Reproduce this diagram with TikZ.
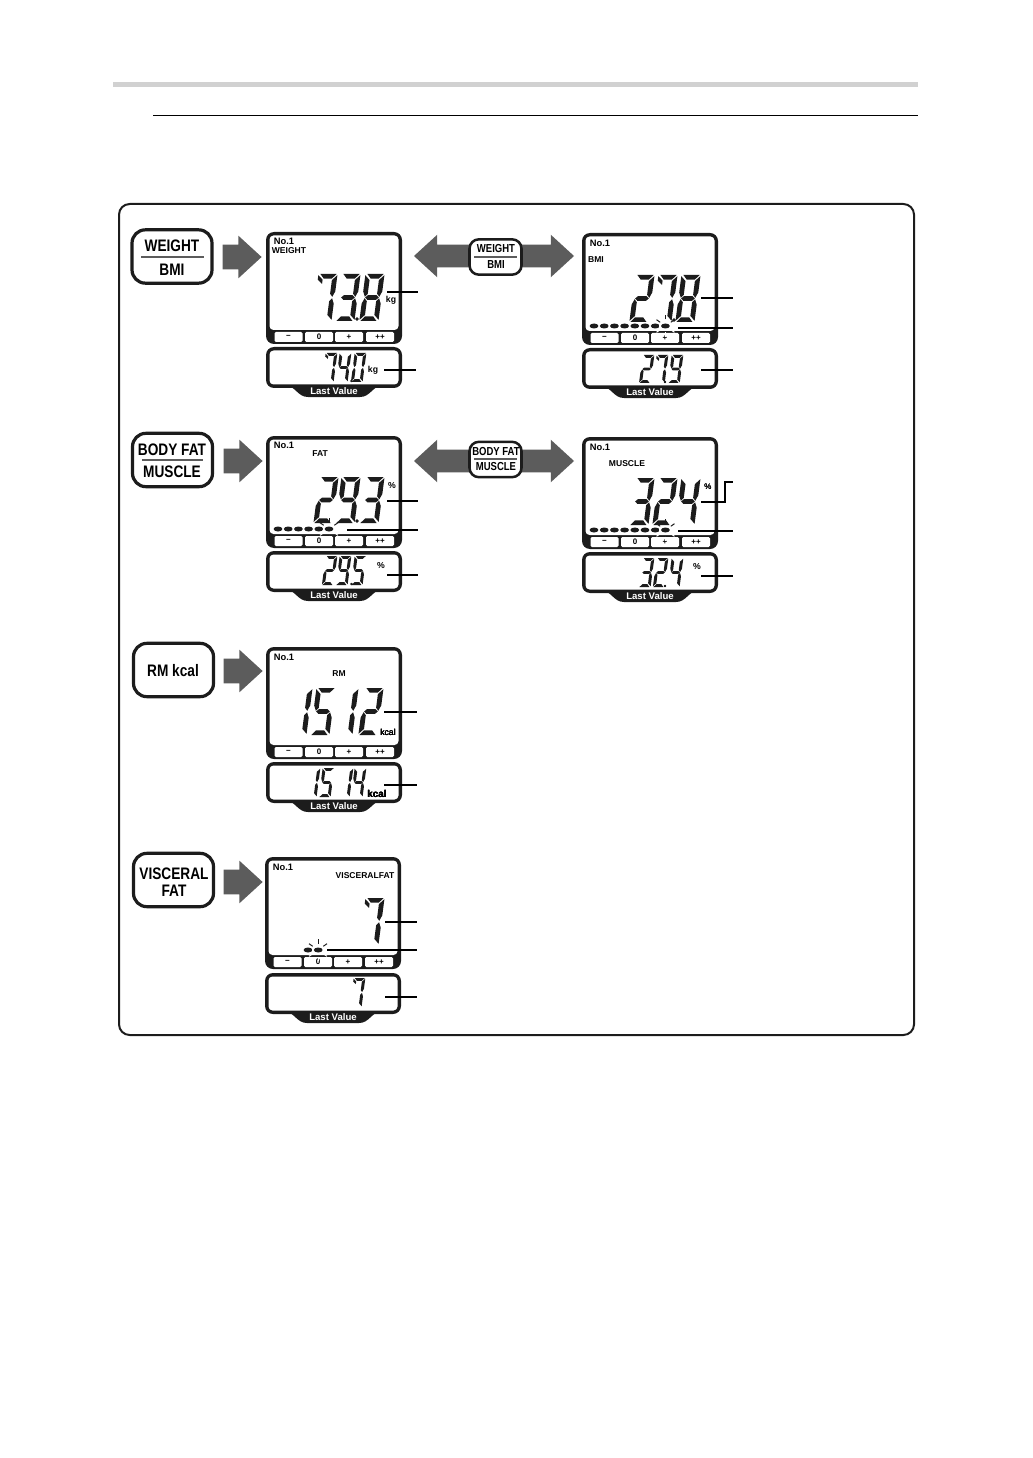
\documentclass[tikz,border=0pt]{standalone}
\usepackage{fontspec}
\setmainfont{Liberation Sans}
\newfontfamily\keyfont[FakeStretch=0.82]{Liberation Sans}
\usetikzlibrary{shapes,arrows,positioning}
\definecolor{lcdblack}{HTML}{1C1C1C}
\definecolor{arrowgray}{HTML}{5C5C5C}
\tikzstyle{lcdframe}=[rectangle, rounded corners=6pt, fill=lcdblack, minimum width=102pt, inner sep=0pt]
\tikzstyle{lcdbutton}=[rectangle, rounded corners=1pt, fill=white, minimum width=21pt, minimum height=7.5pt, inner sep=0pt, font=\fontsize{6}{6}\selectfont\bfseries]
\tikzstyle{lcdlabel}=[inner sep=0pt, font=\fontsize{6.4}{7}\selectfont\bfseries]
\tikzstyle{lcdno}=[inner sep=0pt, font=\fontsize{7}{8}\selectfont\bfseries]
\tikzstyle{lcdunit}=[inner sep=0pt, font=\fontsize{6.5}{7}\selectfont\bfseries]
\tikzstyle{keybox}=[rectangle, rounded corners=10pt, draw=lcdblack, line width=2.4pt, fill=white, minimum width=60pt, minimum height=40pt, inner sep=0pt]
\tikzstyle{smallkey}=[rectangle, rounded corners=7pt, draw=lcdblack, line width=1.9pt, fill=white, minimum width=39pt, minimum height=26.5pt, inner sep=0pt]
\tikzstyle{keytext}=[inner sep=0pt, font=\fontsize{12.5}{13}\keyfont\bfseries]
\tikzstyle{smalltext}=[inner sep=0pt, font=\fontsize{8.7}{9}\keyfont\bfseries]
\tikzstyle{keyrule}=[draw=arrowgray, line width=1.5pt]
\tikzstyle{smallrule}=[draw=arrowgray, line width=1pt]
\tikzstyle{leaderline}=[draw=black, line width=0.9pt]
\tikzstyle{singlearrow}=[single arrow, fill=arrowgray, minimum height=29.25pt, minimum width=31.5pt, inner xsep=0pt, inner ysep=9pt, single arrow head extend=6.75pt, single arrow tip angle=85, anchor=tip]
\tikzstyle{doublearrow}=[double arrow, fill=arrowgray, minimum height=120pt, minimum width=31.5pt, inner xsep=0pt, inner ysep=8.25pt, double arrow head extend=7.5pt, double arrow tip angle=85]
% lcd segments, unit box 1 x 2
\newcommand{\segA}{\fill (0.08,0) -- (0.98,0) -- (0.74,0.2) -- (0.3,0.2) -- cycle;}
\newcommand{\segB}{\fill (1.03,0.05) -- (1.03,0.74) -- (0.9,0.97) -- (0.76,0.84) -- (0.76,0.26) -- cycle;}
\newcommand{\segC}{\fill (1.03,1.26) -- (1.03,1.95) -- (0.76,1.74) -- (0.76,1.16) -- (0.9,1.03) -- cycle;}
\newcommand{\segD}{\fill (0.02,2) -- (0.92,2) -- (0.7,1.8) -- (0.26,1.8) -- cycle;}
\newcommand{\segE}{\fill (-0.03,1.26) -- (0.1,1.03) -- (0.24,1.16) -- (0.24,1.74) -- (-0.03,1.95) -- cycle;}
\newcommand{\segF}{\fill (-0.03,0.05) -- (0.24,0.26) -- (0.24,0.84) -- (0.1,0.97) -- (-0.03,0.74) -- cycle;}
\newcommand{\segG}{\fill (0.26,0.9) -- (0.74,0.9) -- (0.88,1) -- (0.74,1.1) -- (0.26,1.1) -- (0.12,1) -- cycle;}
\newcommand{\segH}{\fill (-0.03,0.05) -- (0.24,0.24) -- (0.24,0.42) -- (-0.03,0.24) -- cycle;}
\newcommand{\lcddigit}[5]{
 \begin{scope}[shift={(#1,#2)},xslant=0.13,xscale=#3,yscale=#4/2,lcdblack]
  \ifcase#5 \def\seglist{A,B,C,D,E,F}\or \def\seglist{B,C}\or \def\seglist{A,B,G,E,D}\or
   \def\seglist{A,B,G,C,D}\or \def\seglist{F,G,B,C}\or \def\seglist{A,F,G,C,D}\or
   \def\seglist{A,F,G,C,D,E}\or \def\seglist{A,B,C,H}\or \def\seglist{A,B,C,D,E,F,G}\or
   \def\seglist{A,B,C,D,F,G}\fi
  \foreach \s in \seglist {\csname seg\s\endcsname}
 \end{scope}}
\newcommand{\lcdmain}[3]{
 \begin{scope}[shift={(#2,#3)}]
  \node[lcdframe, minimum height=84pt] (#1) at (68,56) {};
  \path[fill=white, rounded corners=3pt] (3.5,3.5) rectangle (132.5,98);
  \foreach \bname/\bx/\btxt in {minus/22.5/−,zero/53/0,plus/83/+,plusplus/114/++}
   \node[lcdbutton] (#1-\bname) at (\bx,105) {\btxt};
 \end{scope}}
\newcommand{\lcdlast}[3]{
 \begin{scope}[shift={(#2,#3)}]
  \fill[lcdblack] (20,38) .. controls (30,40) and (32,50) .. (42,50) -- (94,50) .. controls (104,50) and (106,40) .. (116,38) -- cycle;
  \node[lcdframe, minimum height=30.75pt] (#1) at (68,20.5) {};
  \path[fill=white, rounded corners=3pt] (3.5,3.5) rectangle (132.5,37.5);
  \node[inner sep=0pt, text=white, font=\fontsize{7.2}{8}\selectfont\bfseries] (#1-tab) at (68,44.5) {Last Value};
 \end{scope}}
\newcommand{\lcddots}[3]{
 \foreach \i in {1,...,#3}
  \fill[lcdblack] (#1+\i*10.2-10.2,#2) ellipse [x radius=4.4, y radius=2.5];}
\newcommand{\lcdblink}[2]{
 \foreach \a in {215,270,325}
  \draw[lcdblack, line width=0.75pt] (#1,#2) ++(\a:6.5) -- ++(\a:4.5);
 \foreach \a in {35,90,145}
  \draw[white, line width=0.75pt] (#1,#2) ++(\a:6.5) -- ++(\a:4.5);
 \foreach \a in {180}
  \draw[white, line width=1pt] (#1,#2) ++(\a:4.6) -- ++(\a:1.5);}
\newcommand{\leader}[4]{
 \coordinate (#1-a) at (#2,#4);
 \coordinate (#1-b) at (#3,#4);
 \draw[leaderline] (#1-a) -- (#1-b);}

\begin{document}
\begin{tikzpicture}[x=0.75pt,y=-0.75pt]
\useasboundingbox (0,0) rectangle (1032,1458);

\fill[black!18] (113,82) rectangle (918,87);
\coordinate (top-a) at (153,115.5);
\coordinate (top-b) at (918,115.5);
\draw[line width=0.8pt] (top-a) -- (top-b);
\draw[draw=lcdblack, line width=1.5pt, rounded corners=8pt] (119,204) rectangle (914,1035);

% row 1
\node[keybox] (key1) at (172,256.5) {};
\node[keytext] (key1-t) at (172,246) {WEIGHT};
\node[keytext] (key1-b) at (172,270) {BMI};
\draw[keyrule] (141,257) -- (204,257);
\node[singlearrow] (arr1) at (262,257) {};
\node[doublearrow] (darr1) at (494,256) {};
\node[smallkey] (skey1) at (495.5,257) {};
\node[smalltext] (skey1-t) at (496,249) {WEIGHT};
\node[smalltext] (skey1-b) at (496,265) {BMI};
\draw[smallrule] (474,257) -- (517,257);

\lcdmain{weight}{266}{232}
\node[lcdno] (weight-no) at (284,241) {No.1};
\node[lcdlabel] (weight-la) at (289,251) {WEIGHT};
\foreach \xd/\dig in {319/7,342/3,366/8} \lcddigit{\xd}{274}{18}{47}{\dig}
\fill[lcdblack] (357,319) circle (1.6);
\node[lcdunit] (weight-un) at (391,300) {kg};
\leader{l1}{387}{418}{292}
\lcdlast{weightl}{266}{347}
\foreach \xd/\dig in {326/7,340/4,355/0} \lcddigit{\xd}{353}{11}{29}{\dig}
\fill[lcdblack] (351.5,381) circle (1.2);
\node[lcdunit] (weightl-un) at (373,370) {kg};
\leader{l2}{384}{416}{370}

\lcdmain{bmi}{582}{233}
\node[lcdno] (bmi-no) at (600,243) {No.1};
\node[lcdlabel] (bmi-la) at (596,260) {BMI};
\foreach \xd/\dig in {636/2,659/7,682/8} \lcddigit{\xd}{275}{18}{47}{\dig}
\fill[lcdblack] (674,320) circle (1.6);
\lcddots{594}{326}{8}
\lcdblink{665.5}{326}
\leader{l3}{701}{733}{298}
\leader{l4}{678}{733}{328}
\lcdlast{bmil}{582}{348}
\foreach \xd/\dig in {643/2,657/7,672/9} \lcddigit{\xd}{355}{11}{28}{\dig}
\fill[lcdblack] (665,382) circle (1.2);
\leader{l5}{701}{733}{370}

% row 2
\node[keybox] (key2) at (172.5,460) {};
\node[keytext] (key2-t) at (172,450) {BODY FAT};
\node[keytext] (key2-b) at (172,472) {MUSCLE};
\draw[keyrule] (142,460) -- (203,460);
\node[singlearrow] (arr2) at (263,461) {};
\node[doublearrow] (darr2) at (494,461) {};
\node[smallkey] (skey2) at (495.5,459.5) {};
\node[smalltext] (skey2-t) at (496,452) {BODY FAT};
\node[smalltext] (skey2-b) at (496,467) {MUSCLE};
\draw[smallrule] (474,459) -- (517,459);

\lcdmain{fat}{266}{436}
\node[lcdno] (fat-no) at (284,445) {No.1};
\node[lcdlabel] (fat-la) at (320,454) {FAT};
\foreach \xd/\dig in {320/2,342/9,366/3} \lcddigit{\xd}{477}{18}{46}{\dig}
\fill[lcdblack] (357,521) circle (1.6);
\node[lcdunit] (fat-un) at (392,486) {\%};
\lcddots{278}{529}{6}
\lcdblink{329}{529}
\leader{l6}{387}{418}{501}
\leader{l7}{347}{418}{530}
\lcdlast{fatl}{266}{551}
\foreach \xd/\dig in {326/2,340/9,355/5} \lcddigit{\xd}{556}{11}{29}{\dig}
\fill[lcdblack] (351.5,584) circle (1.2);
\node[lcdunit] (fatl-un) at (381,566) {\%};
\leader{l8}{387}{418}{575}

\lcdmain{muscle}{582}{437}
\node[lcdno] (muscle-no) at (600,447) {No.1};
\node[lcdlabel] (muscle-la) at (627,464) {MUSCLE};
\foreach \xd/\dig in {636/3,659/2,682/4} \lcddigit{\xd}{478}{18}{47}{\dig}
\node[inner sep=0pt, font=\fontsize{6}{7}\selectfont] (muscle-un) at (708,487) {\%};
\lcddots{594}{530}{8}
\lcdblink{665.5}{530}
\coordinate (l9-a) at (701,502);
\coordinate (l9-b) at (733,482);
\draw[leaderline] (l9-a) -- (725,502) -- (725,482) -- (l9-b);
\leader{l10}{678}{733}{531}
\lcdlast{musclel}{582}{552}
\foreach \xd/\dig in {643/3,657/2,672/4} \lcddigit{\xd}{558}{11}{29}{\dig}
\fill[lcdblack] (665,586) circle (1.2);
\node[lcdunit] (musclel-un) at (697,567) {\%};
\leader{l11}{701}{733}{576}

% row 3
\node[keybox] (key3) at (173.5,670) {};
\node[keytext] (key3-t) at (173,671) {RM kcal};
\node[singlearrow] (arr3) at (263,671) {};

\lcdmain{rm}{266}{647}
\node[lcdno] (rm-no) at (284,657) {No.1};
\node[lcdlabel] (rm-la) at (339,674) {RM};
\foreach \xd/\dig in {294/1,317/5,340/1,365/2} \lcddigit{\xd}{688}{18}{47}{\dig}
\node[inner sep=0pt, font=\fontsize{6.5}{7}\selectfont] (rm-un) at (388,732) {kcal};
\leader{l12}{384}{417}{712}
\lcdlast{rml}{266}{762}
\foreach \xd/\dig in {309/1,323/5,342/1,355/4} \lcddigit{\xd}{768}{11}{29}{\dig}
\node[inner sep=0pt, font=\fontsize{7.4}{8}\selectfont\bfseries] (rml-un) at (377,794) {kcal};
\leader{l13}{384}{417}{785}

% row 4
\node[keybox] (key4) at (173.5,880) {};
\node[keytext] (key4-t) at (174,874) {VISCERAL};
\node[keytext] (key4-b) at (174,891) {FAT};
\node[singlearrow] (arr4) at (263,882) {};

\lcdmain{visc}{265}{857}
\node[lcdno] (visc-no) at (283,867) {No.1};
\node[lcdlabel] (visc-la) at (365,876) {VISCERALFAT};
\lcddigit{366}{898}{18}{47}{7}
\lcddots{308}{950}{2}
\lcdblink{318}{950}
\leader{l14}{385}{417}{922}
\leader{l15}{327}{417}{950}
\lcdlast{viscl}{265}{973}
\lcddigit{354}{978}{11}{29}{7}
\leader{l16}{385}{417}{997}

\end{tikzpicture}
\end{document}
